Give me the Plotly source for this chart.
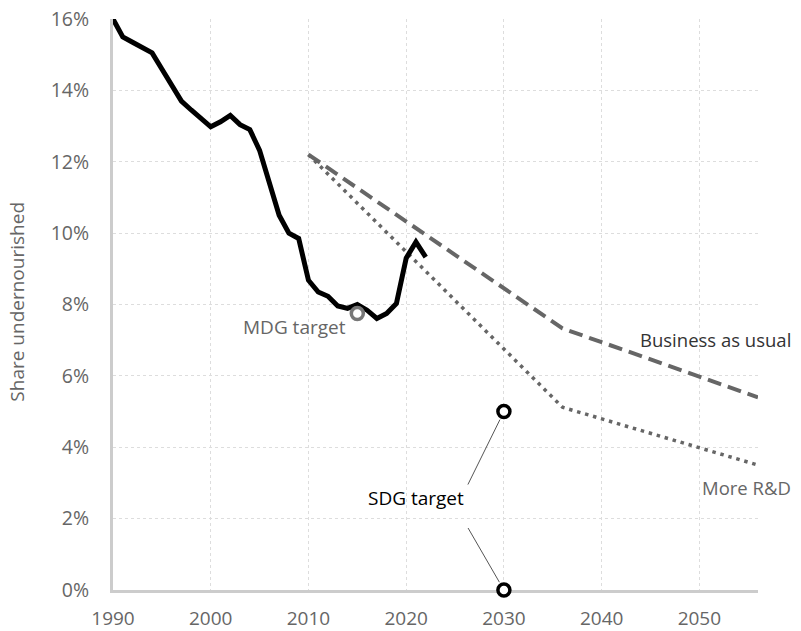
import plotly.graph_objects as go

# Historical share undernourished (%)
hist_years = list(range(1990, 2023))
hist_vals = [16.0, 15.5, 15.35, 15.2, 15.05, 14.6, 14.15, 13.7, 13.45, 13.2,
             12.98, 13.12, 13.3, 13.04, 12.9, 12.32, 11.4, 10.5, 10.0, 9.85,
             8.68, 8.35, 8.23, 7.96, 7.89, 8.0, 7.84, 7.61, 7.75, 8.03,
             9.3, 9.75, 9.33]

# Projections
bau_years = [2010, 2036, 2056]
bau_vals = [12.2, 7.33, 5.4]
rd_years = [2010, 2036, 2056]
rd_vals = [12.2, 5.12, 3.5]

# Targets
mdg_year = [2015]
mdg_val = [7.75]
sdg_years = [2030, 2030]
sdg_vals = [5.0, 0.0]

x_ticks = [1990, 2000, 2010, 2020, 2030, 2040, 2050]
x_tick_labels = ["1990", "2000", "2010", "2020", "2030", "2040", "2050"]
y_ticks = [0, 2, 4, 6, 8, 10, 12, 14, 16]
y_tick_labels = ["0%", "2%", "4%", "6%", "8%", "10%", "12%", "14%", "16%"]

FONT = "Open Sans"
GRAY = "#666666"

fig = go.Figure()

fig.add_trace(go.Scatter(x=bau_years, y=bau_vals, mode="lines",
                         line=dict(color="#666666", width=4, dash="14px,7px"),
                         hoverinfo="skip", showlegend=False))
fig.add_trace(go.Scatter(x=rd_years, y=rd_vals, mode="lines",
                         line=dict(color="#666666", width=3.5, dash="3.5px,4.8px"),
                         hoverinfo="skip", showlegend=False))
fig.add_trace(go.Scatter(x=hist_years, y=hist_vals, mode="lines",
                         line=dict(color="black", width=5, shape="linear"),
                         hoverinfo="skip", showlegend=False))
fig.add_trace(go.Scatter(x=mdg_year, y=mdg_val, mode="markers", cliponaxis=False,
                         marker=dict(symbol="circle", size=12, color="white",
                                     line=dict(color="#777777", width=3.5)),
                         hoverinfo="skip", showlegend=False))
fig.add_trace(go.Scatter(x=sdg_years, y=sdg_vals, mode="markers", cliponaxis=False,
                         marker=dict(symbol="circle", size=12, color="white",
                                     line=dict(color="black", width=3.5)),
                         hoverinfo="skip", showlegend=False))

annotations = []
annotations.append(dict(x=mdg_year[0], y=mdg_val[0], text="MDG target", showarrow=False,
                        xanchor="right", yanchor="middle", xshift=-9, yshift=-14,
                        font=dict(family=FONT, size=19, color=GRAY)))
annotations.append(dict(x=sdg_years[0], y=sdg_vals[0], text="SDG target", showarrow=False,
                        xanchor="center", yanchor="middle", xshift=-88, yshift=-86,
                        font=dict(family=FONT, size=19, color="black")))
annotations.append(dict(x=bau_years[-1], y=bau_vals[-1], text="Business as usual", showarrow=False,
                        xanchor="right", yanchor="middle", xshift=35, yshift=58,
                        font=dict(family=FONT, size=18.5, color="#333333")))
annotations.append(dict(x=rd_years[-1], y=rd_vals[-1], text="More R&D", showarrow=False,
                        xanchor="right", yanchor="middle", xshift=35, yshift=-22,
                        font=dict(family=FONT, size=18.5, color=GRAY)))
for v, ay in zip(sdg_vals, [75, -64]):
    annotations.append(dict(x=sdg_years[0], y=v, text=" ", showarrow=True, arrowhead=0,
                            arrowwidth=1, arrowcolor="#555555", ax=-37, ay=ay, standoff=9,
                            font=dict(size=1)))
annotations.append(dict(xref="paper", yref="paper", x=0, y=0.505, xshift=-96, text="Share undernourished",
                        textangle=-90, showarrow=False, xanchor="center", yanchor="middle",
                        font=dict(family=FONT, size=19, color=GRAY)))

fig.update_layout(
    width=801, height=631,
    margin=dict(l=113, r=43, t=19, b=41, autoexpand=False),
    plot_bgcolor="white", paper_bgcolor="white",
    font=dict(family=FONT, size=20, color=GRAY),
    annotations=annotations,
    xaxis=dict(range=[1990, 2056], tickmode="array", tickvals=x_ticks, ticktext=x_tick_labels,
               showgrid=True, gridcolor="#dddddd", automargin=False,
               griddash="dot", gridwidth=1, zeroline=False, showline=True, linecolor="#cccccc",
               linewidth=3, ticks="", ticklabelstandoff=9, layer="below traces",
               tickfont=dict(family=FONT, size=19, color=GRAY)),
    yaxis=dict(range=[0, 16], tickmode="array", tickvals=y_ticks, ticktext=y_tick_labels,
               showgrid=True, gridcolor="#dddddd", automargin=False,
               griddash="dot", gridwidth=1, zeroline=False, showline=True, linecolor="#cccccc",
               linewidth=3, ticks="", ticklabelstandoff=17, layer="below traces",
               tickfont=dict(family=FONT, size=19.5, color=GRAY)),
)

fig.write_html("out.html", config={"displayModeBar": False},
               post_script="document.body.style.margin='0';document.body.style.padding='0';")
